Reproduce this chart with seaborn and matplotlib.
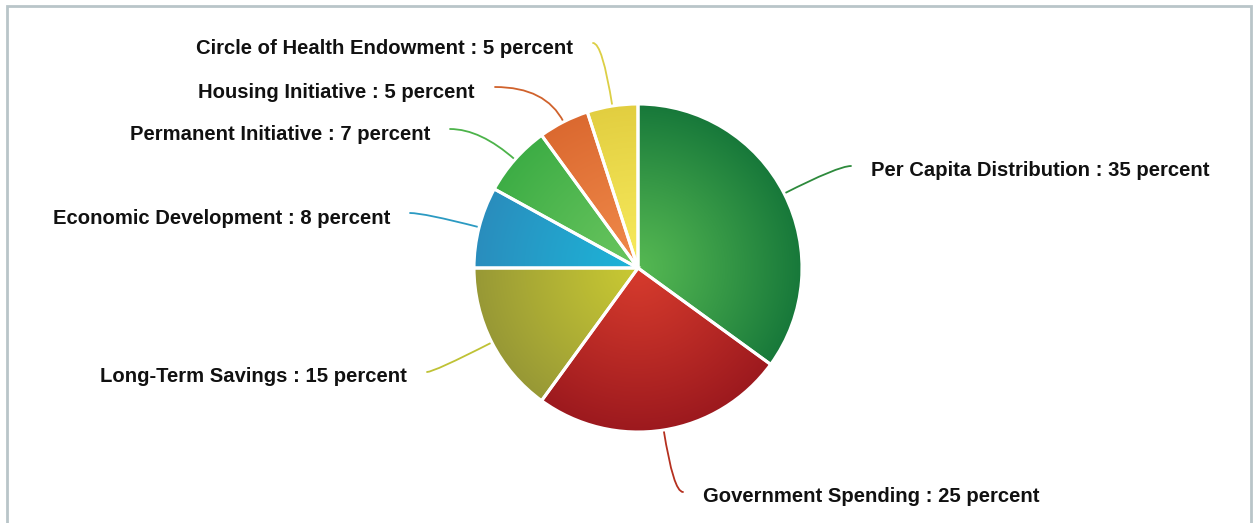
import numpy as np
import matplotlib
matplotlib.use("Agg")
import matplotlib.pyplot as plt
import matplotlib.colors as mcolors
from matplotlib.patches import Rectangle
import seaborn as sns

# ---------------- data ----------------
categories = [
    "Per Capita Distribution",
    "Government Spending",
    "Long-Term Savings",
    "Economic Development",
    "Permanent Initiative",
    "Housing Initiative",
    "Circle of Health Endowment",
]
percents = [35, 25, 15, 8, 7, 5, 5]

# ---------------- style ----------------
light_colors = ["#55b852", "#d63b2d", "#c9c933", "#1db4d8", "#6ac55f", "#f08a4a", "#f7ea5c"]
dark_colors = ["#17783a", "#9c191e", "#979836", "#2a8dbd", "#3dad45", "#db6930", "#e2ce40"]
line_colors = ["#2d8a3c", "#b5301f", "#bfc235", "#2b9ac2", "#4cb34a", "#d0622c", "#dccf45"]

# label line-end positions, in pixels relative to pie centre (x right, y up)
label_offsets_px = [(213, 102), (45, -224), (-211, -104), (-228, 55),
                    (-188, 139), (-143, 181), (-45, 225)]

W, H, DPI = 1260, 523, 100
R_PX = 164.0
CX, CY = 638.0, 268.0  # pie centre in pixels from top-left

sns.set_theme(style="white")
plt.rcParams["font.family"] = ["Liberation Sans", "DejaVu Sans"]

fig = plt.figure(figsize=(W / DPI, H / DPI), dpi=DPI)
fig.patch.set_facecolor("white")
ax = fig.add_axes([0, 0, 1, 1])

wedges, _ = ax.pie(
    percents,
    colors=light_colors,
    startangle=90,
    counterclock=False,
    radius=1.0,
    wedgeprops=dict(edgecolor="white", linewidth=2.2),
)

# radial gradient fill per wedge, clipped to the wedge
n = 500
g = np.linspace(-1, 1, n)
gx, gy = np.meshgrid(g, g)
rr = np.clip(np.sqrt(gx ** 2 + gy ** 2), 0, 1)
for w, lc, dc in zip(wedges, light_colors, dark_colors):
    c0 = np.array(mcolors.to_rgb(lc))
    c1 = np.array(mcolors.to_rgb(dc))
    t = rr[..., None] ** 1.1
    img = c0 * (1 - t) + c1 * t
    im = ax.imshow(img, extent=(-1, 1, -1, 1), origin="lower",
                   interpolation="bilinear", zorder=1)
    im.set_clip_path(w)
    w.set_facecolor("none")
    w.set_zorder(2)

# labels with curved connectors
total = float(sum(percents))
cum = 0.0
for w, cat, val, lcol, (ox, oy) in zip(wedges, categories, percents, line_colors, label_offsets_px):
    mid = 90 - 360 * (cum + val / 2) / total
    cum += val
    ang = np.deg2rad(mid)
    edge = (np.cos(ang), np.sin(ang))
    end = (ox / R_PX, oy / R_PX)
    ax.annotate(
        "", xy=edge, xytext=end, xycoords="data", textcoords="data",
        arrowprops=dict(arrowstyle="-", color=lcol, lw=1.3, shrinkA=0, shrinkB=0,
                        connectionstyle=f"angle3,angleA=0,angleB={mid}"),
        zorder=0,
    )
    right = ox > 0
    gap = 20 / R_PX
    tx = end[0] + (gap if right else -gap)
    ty = end[1] - 5 / R_PX
    ax.text(tx, ty, f"{cat} : {val} percent", ha="left" if right else "right",
            va="center", fontsize=14.6, fontweight="bold", color="#111111")

ax.set_aspect("equal")
ax.set_xlim(-CX / R_PX, (W - CX) / R_PX)
ax.set_ylim(-(H - CY) / R_PX, CY / R_PX)
ax.axis("off")

# outer frame
fig.patches.append(Rectangle((7 / W, -0.05), (1251 - 7) / W, 1.05 - 6 / H,
                             transform=fig.transFigure, fill=False,
                             edgecolor="#b9c5c9", linewidth=2.0))

fig.savefig("out.png", dpi=DPI, facecolor="white")
